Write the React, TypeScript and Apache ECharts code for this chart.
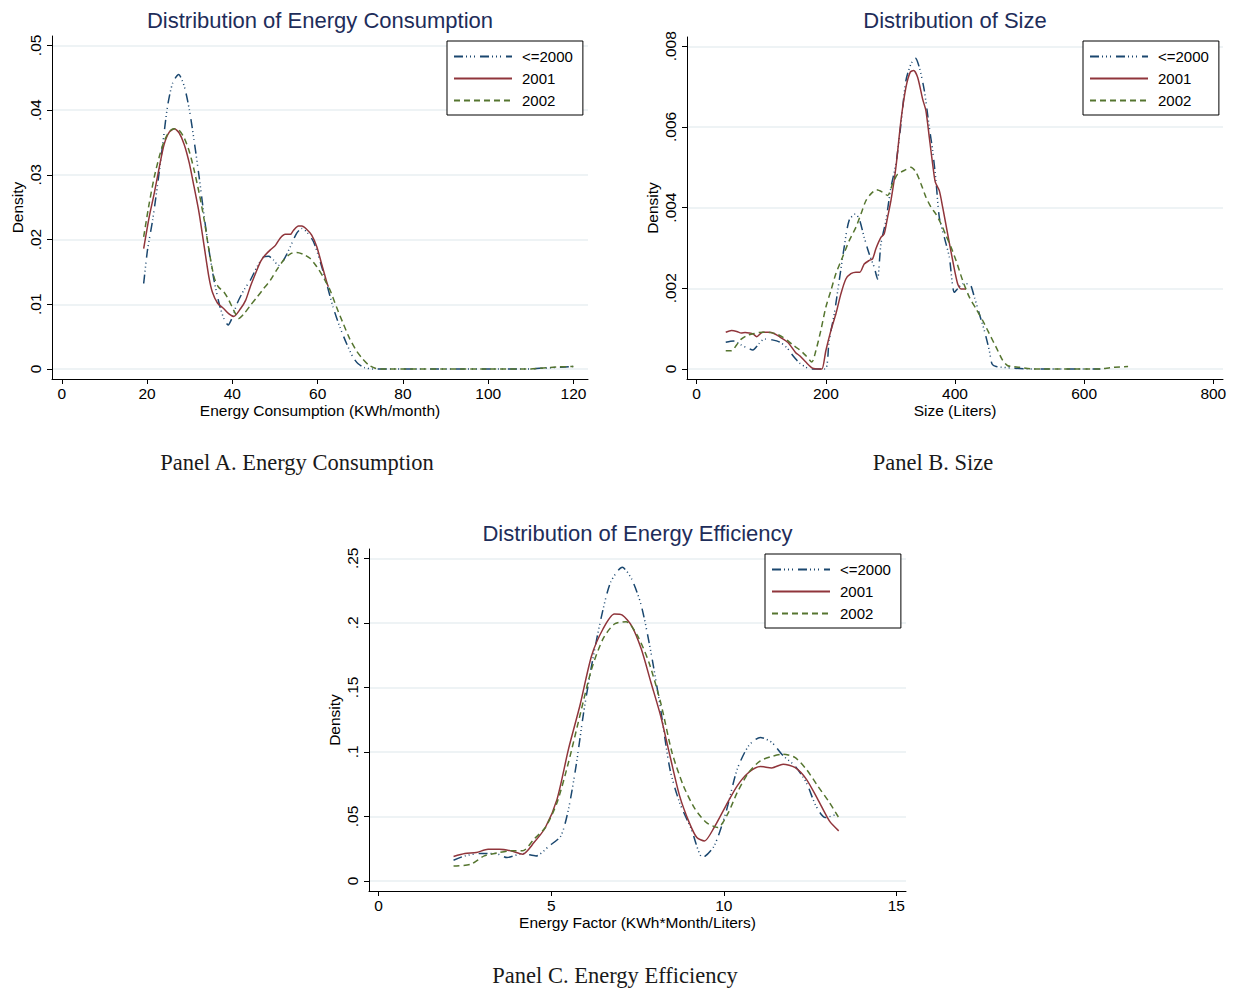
import React, { useEffect, useRef } from "react";
import * as echarts from "echarts";

type Pt = [number, number];

const seriesNames = ["<=2000", "2001", "2002"];
const panelTitles = ["Distribution of Energy Consumption", "Distribution of Size", "Distribution of Energy Efficiency"];
const xAxisNames = ["Energy Consumption (KWh/month)", "Size (Liters)", "Energy Factor (KWh*Month/Liters)"];
const panelCaptions = ["Panel A. Energy Consumption", "Panel B. Size", "Panel C. Energy Efficiency"];

const xTicksA = [0, 20, 40, 60, 80, 100, 120];
const yTicksA = [0, 0.01, 0.02, 0.03, 0.04, 0.05];
const yLabelsA = ["0", ".01", ".02", ".03", ".04", ".05"];
const xTicksB = [0, 200, 400, 600, 800];
const yTicksB = [0, 0.002, 0.004, 0.006, 0.008];
const yLabelsB = ["0", ".002", ".004", ".006", ".008"];
const xTicksC = [0, 5, 10, 15];
const yTicksC = [0, 0.05, 0.1, 0.15, 0.2, 0.25];
const yLabelsC = ["0", ".05", ".1", ".15", ".2", ".25"];

const consOld: Pt[] = [[19.2,0.0132],[20.1,0.0184],[21.3,0.023],[22.5,0.0287],[23.7,0.0349],[24.8,0.0406],[26,0.0442],[27.4,0.0455],[28.7,0.0437],[29.9,0.0401],[31,0.0354],[32.2,0.0297],[33.4,0.0235],[34.5,0.0184],[35.7,0.0137],[36.9,0.0101],[38,0.0078],[39,0.0068],[40,0.008],[41.1,0.0101],[42.7,0.0122],[44.2,0.0137],[45.8,0.0158],[47.3,0.0173],[48.5,0.0174],[49.7,0.0168],[50.8,0.016],[52,0.0168],[53.6,0.0189],[55.1,0.021],[56.3,0.0217],[57.4,0.0212],[59,0.0197],[60.5,0.0168],[62.1,0.0132],[63.6,0.0096],[65.2,0.0065],[66.8,0.0039],[68.3,0.0018],[69.5,0.0008],[71,0.0002],[73,0],[80,0],[90,0],[100,0],[110,0],[112,0.0001],[115,0.0002],[118,0.0003],[120,0.0004]];
const cons2001: Pt[] = [[19.2,0.0186],[20.5,0.0235],[21.7,0.0272],[22.9,0.0313],[24,0.0347],[25.2,0.0366],[26.4,0.0371],[27.5,0.0365],[28.7,0.0347],[29.9,0.0318],[31,0.0282],[32.2,0.0241],[33.4,0.0189],[34.5,0.0142],[35.3,0.0119],[36.5,0.0102],[38,0.0093],[39.2,0.0085],[40.3,0.0081],[41.9,0.0093],[43.1,0.0106],[44.2,0.0127],[45.4,0.0147],[46.6,0.0166],[47.7,0.0176],[48.9,0.0184],[50.1,0.0191],[51.2,0.0202],[52.4,0.0208],[53.6,0.0208],[54.3,0.0214],[55.5,0.0221],[56.3,0.0221],[57.4,0.0216],[58.6,0.0207],[59.8,0.0189],[60.9,0.0163],[62.1,0.0135],[62.5,0.0127]];
const cons2002: Pt[] = [[19.2,0.0204],[20.5,0.0256],[21.7,0.0297],[22.9,0.0329],[24,0.0352],[25.2,0.0367],[26.4,0.0371],[27.5,0.0369],[28.7,0.0357],[29.9,0.0336],[31,0.0308],[32.2,0.0272],[33.4,0.023],[34.5,0.0184],[35.7,0.0142],[36.7,0.0127],[38,0.0119],[39.2,0.0106],[40.3,0.0091],[41.5,0.0078],[42.7,0.0085],[44.2,0.0098],[45.8,0.0111],[47.3,0.0124],[48.9,0.0137],[50.4,0.0153],[52,0.0168],[53.6,0.0178],[55.1,0.018],[56.7,0.0177],[58.2,0.0171],[59.8,0.0158],[61.3,0.0142],[62.9,0.0122],[64.4,0.0096],[66,0.007],[67.5,0.0047],[69.1,0.0028],[70.5,0.0016],[72,0.0006],[73.5,0.0001],[75,0],[80,0],[90,0],[100,0],[110,0],[112,0.0001],[116,0.0003],[120,0.0004]];

const sizeOld: Pt[] = [[45,0.00066],[57,0.00069],[68,0.0006],[78,0.00052],[87,0.00047],[96,0.00062],[105,0.00074],[117,0.00072],[129,0.00066],[140,0.00052],[147,0.00037],[153,0.00025],[159,0.00015],[168,0.00005],[177,0],[199,0],[205,0.0007],[213,0.00136],[220.7,0.00219],[228.4,0.00302],[236,0.00368],[245.5,0.00384],[251.7,0.00372],[259.4,0.00326],[267.2,0.00285],[274.9,0.00252],[280,0.00223],[285.3,0.0031],[293,0.00368],[300.8,0.0045],[308.5,0.00508],[316.3,0.00607],[324,0.00715],[331.8,0.00756],[338.5,0.00771],[344.7,0.00748],[352.5,0.0069],[360.2,0.00599],[365.4,0.00541],[370.5,0.00467],[375.7,0.00376],[383.5,0.00326],[391.2,0.00277],[399,0.0019],[405.7,0.00202],[411.9,0.00211],[422.2,0.00211],[430,0.00178],[437.7,0.00136],[445.5,0.00095],[453.2,0.00045],[457.4,0.00012],[463.6,0.00006],[490,0.00002],[520,0],[560,0],[600,0],[625,0]];
const size2001: Pt[] = [[45,0.00091],[54,0.00095],[62,0.00093],[69,0.00089],[75,0.0009],[81,0.00089],[87,0.00087],[93,0.0008],[102,0.00091],[114,0.00091],[122,0.00086],[129,0.00079],[141,0.00066],[153,0.00041],[160,0.00032],[169,0.00017],[179.3,0.00002],[189.7,0],[194,0],[200,0.00045],[207.8,0.00095],[215.5,0.00136],[223.3,0.00186],[231,0.00223],[238.8,0.00236],[246.5,0.0024],[252.7,0.0024],[259.4,0.0026],[267.2,0.00269],[272.4,0.00273],[277.5,0.00298],[285.3,0.00326],[290.4,0.00335],[295.6,0.00376],[300.8,0.00417],[308.5,0.005],[316.3,0.00616],[324,0.00698],[330.7,0.00736],[335.9,0.0074],[342.1,0.00723],[349.9,0.00669],[355,0.0064],[360.2,0.00574],[365.4,0.00508],[369.5,0.00463],[375.7,0.00442],[380.9,0.00401],[388.6,0.00335],[396.4,0.00269],[404.1,0.00211],[409.3,0.00198],[417,0.00198]];
const size2002: Pt[] = [[45,0.00045],[54,0.00045],[62,0.0006],[69,0.00074],[78,0.00083],[87,0.00087],[96,0.0009],[105,0.00091],[114,0.0009],[123,0.00087],[132,0.0008],[141,0.0007],[150,0.00058],[159,0.00048],[169,0.00033],[178.3,0.00017],[184.5,0.00045],[192.2,0.00095],[200,0.00153],[207.8,0.00194],[215.5,0.00236],[225.8,0.00277],[236.2,0.00318],[246.5,0.00351],[254.3,0.00384],[262,0.00417],[269.8,0.00434],[278.6,0.00444],[287.9,0.00438],[295.6,0.0043],[303.4,0.00459],[311.1,0.00483],[321.4,0.00492],[331.8,0.005],[339.5,0.00488],[347.3,0.00459],[355,0.00426],[362.8,0.00401],[370.5,0.00384],[378.3,0.0036],[386,0.00331],[393.8,0.00302],[401.6,0.00269],[411.9,0.00219],[422.2,0.00178],[432.6,0.00149],[442.9,0.0012],[453.2,0.00087],[463.6,0.00054],[473.9,0.00021],[481.7,0.00008],[499.8,0.00004],[520,0],[560,0],[600,0],[625,0],[640,0.00003],[655,0.00005],[668,0.00006]];

const effOld: Pt[] = [[2.17,0.016],[2.5,0.0194],[2.94,0.0212],[3.39,0.0212],[3.72,0.0181],[4.17,0.0212],[4.56,0.0194],[4.94,0.0271],[5.28,0.0349],[5.5,0.0556],[5.72,0.0892],[5.94,0.1306],[6.17,0.1668],[6.44,0.203],[6.72,0.2314],[7.06,0.243],[7.33,0.234],[7.61,0.2133],[7.89,0.1771],[8.17,0.1331],[8.44,0.0866],[8.72,0.0607],[9.06,0.0401],[9.39,0.0181],[9.72,0.0271],[10.06,0.053],[10.39,0.0866],[10.72,0.1047],[11.06,0.1112],[11.39,0.1073],[11.72,0.097],[12.06,0.0892],[12.39,0.0763],[12.67,0.0582],[12.94,0.0491],[13.28,0.0517]];
const eff2001: Pt[] = [[2.17,0.0189],[2.5,0.0212],[2.83,0.022],[3.17,0.0246],[3.5,0.0246],[3.83,0.0233],[4.17,0.0207],[4.5,0.0297],[4.83,0.0414],[5.17,0.0634],[5.5,0.1021],[5.83,0.1357],[6.17,0.1745],[6.5,0.1952],[6.83,0.2068],[7.06,0.206],[7.33,0.1977],[7.61,0.1797],[7.89,0.1538],[8.17,0.128],[8.44,0.097],[8.72,0.0659],[9,0.0452],[9.22,0.0336],[9.44,0.031],[9.72,0.0414],[10.06,0.0582],[10.39,0.0737],[10.72,0.084],[11.06,0.0887],[11.39,0.0876],[11.72,0.0905],[12.06,0.0879],[12.39,0.0789],[12.72,0.0634],[13.06,0.0465],[13.33,0.0388]];
const eff2002: Pt[] = [[2.17,0.0116],[2.67,0.0129],[3.06,0.0194],[3.5,0.022],[3.83,0.0233],[4.17,0.0233],[4.5,0.0323],[4.83,0.0414],[5.17,0.0608],[5.5,0.0918],[5.83,0.128],[6.17,0.1642],[6.5,0.1875],[6.83,0.1991],[7.17,0.2009],[7.5,0.19],[7.83,0.1694],[8.17,0.1383],[8.5,0.0995],[8.83,0.0737],[9.17,0.0556],[9.5,0.0452],[9.83,0.0414],[10.11,0.0517],[10.39,0.0685],[10.72,0.084],[11.06,0.0931],[11.39,0.0964],[11.72,0.0982],[12.06,0.0957],[12.39,0.0866],[12.72,0.0737],[13.06,0.0608],[13.33,0.0491]];

const SANS = "'Liberation Sans', Arial, sans-serif";
const SERIF = "'Liberation Serif', 'DejaVu Serif', serif";
const COLORS = ["#1a476f", "#90353b", "#55752f"];
const DASHES: any[] = [[9, 3, 1, 3, 1, 3, 1, 5], "solid", [6, 4]];
const GRID_COLOR = "#e9eff2";
const AXIS_FONT = 15.5;

const grids = [
  { left: 52, top: 36, width: 536, height: 343 },
  { left: 687, top: 37, width: 536, height: 342 },
  { left: 369, top: 549, width: 537, height: 342 },
];
const xRanges = [[-2.3, 123.4], [-15, 815], [-0.28, 15.28]];
const yRanges = [[-0.00155, 0.05145], [-0.00025, 0.00823], [-0.0078, 0.2572]];
const xTicks = [xTicksA, xTicksB, xTicksC];
const yTicks = [yTicksA, yTicksB, yTicksC];
const yLabels = [yLabelsA, yLabelsB, yLabelsC];
const data = [[consOld, cons2001, cons2002], [sizeOld, size2001, size2002], [effOld, eff2001, eff2002]];
const legendPos = [{ left: 447, top: 41 }, { left: 1083, top: 41 }, { left: 765, top: 554 }];
const captionPos = [[297, 462], [933, 462], [615, 975]];

function labelFor(ticks: number[], labels: string[], v: number) {
  for (let i = 0; i < ticks.length; i++) {
    if (Math.abs(ticks[i] - v) < 1e-9) return labels[i];
  }
  return String(v);
}

export default function App() {
  const ref = useRef<HTMLDivElement>(null);
  useEffect(() => {
    if (!ref.current) return;
    const chart = echarts.init(ref.current, null, { renderer: "svg" });
    const xAxis = grids.map((_, i) => ({
      type: "value",
      gridIndex: i,
      min: xRanges[i][0],
      max: xRanges[i][1],
      axisLine: { show: true, onZero: false, lineStyle: { color: "#000", width: 1 } },
      axisTick: { show: true, length: 5, customValues: xTicks[i], lineStyle: { color: "#000", width: 1 } },
      axisLabel: { customValues: xTicks[i], color: "#000", fontSize: AXIS_FONT, fontFamily: SANS, margin: 6, showMinLabel: true, showMaxLabel: true },
      splitLine: { show: false },
      name: xAxisNames[i],
      nameLocation: "middle",
      nameGap: 23,
      nameTextStyle: { color: "#000", fontSize: AXIS_FONT, fontFamily: SANS },
    }));
    const yAxis = grids.map((_, i) => ({
      type: "value",
      gridIndex: i,
      min: yRanges[i][0],
      max: yRanges[i][1],
      axisLine: { show: true, onZero: false, lineStyle: { color: "#000", width: 1 } },
      axisTick: { show: true, length: 5, customValues: yTicks[i], lineStyle: { color: "#000", width: 1 } },
      axisLabel: {
        customValues: yTicks[i],
        rotate: 90,
        color: "#000",
        fontSize: AXIS_FONT,
        fontFamily: SANS,
        margin: 9,
        formatter: (v: number) => labelFor(yTicks[i], yLabels[i], v),
      },
      splitLine: { show: true, lineStyle: { color: GRID_COLOR, width: 1.5 } },
      name: "Density",
      nameLocation: "middle",
      nameGap: 27,
      nameRotate: 90,
      nameTextStyle: { color: "#000", fontSize: AXIS_FONT, fontFamily: SANS },
    }));
    const series: any[] = [];
    data.forEach((panel, pi) => {
      panel.forEach((d, si) => {
        series.push({
          type: "line",
          name: seriesNames[si],
          xAxisIndex: pi,
          yAxisIndex: pi,
          data: d,
          symbol: "none",
          showSymbol: false,
          smooth: 0.25,
          z: 3 + si,
          lineStyle: { color: COLORS[si], width: 1.5, type: DASHES[si] },
          itemStyle: { color: COLORS[si] },
          emphasis: { disabled: true },
        });
      });
    });
    const legend = legendPos.map((p) => ({
      data: seriesNames,
      left: p.left,
      top: p.top,
      orient: "vertical",
      itemWidth: 58,
      itemHeight: 14,
      itemGap: 7,
      padding: [8, 10, 7, 6],
      borderColor: "#000",
      borderWidth: 1,
      backgroundColor: "#fff",
      selectedMode: false,
      itemStyle: { opacity: 0 },
      textStyle: { color: "#000", fontSize: 15, fontFamily: SANS, padding: [0, 0, 0, 5] },
    }));
    const graphic: any[] = [];
    grids.forEach((g, i) => {
      graphic.push({
        type: "text",
        x: g.left + g.width / 2,
        y: i < 2 ? 20 : 533,
        style: { text: panelTitles[i], fill: "#1e2d5a", font: `22px ${SANS}`, textAlign: "center", textVerticalAlign: "middle" },
      });
      graphic.push({
        type: "text",
        x: captionPos[i][0],
        y: captionPos[i][1],
        style: { text: panelCaptions[i], fill: "#1a1a1a", font: `22.5px ${SERIF}`, textAlign: "center", textVerticalAlign: "middle" },
      });
    });
    chart.setOption({
      animation: false,
      backgroundColor: "#fff",
      grid: grids,
      xAxis,
      yAxis,
      legend,
      series,
      graphic,
    });
    return () => chart.dispose();
  }, []);
  return <div ref={ref} style={{ position: "fixed", left: 0, top: 0, width: 1238, height: 988, background: "#fff" }} />;
}
